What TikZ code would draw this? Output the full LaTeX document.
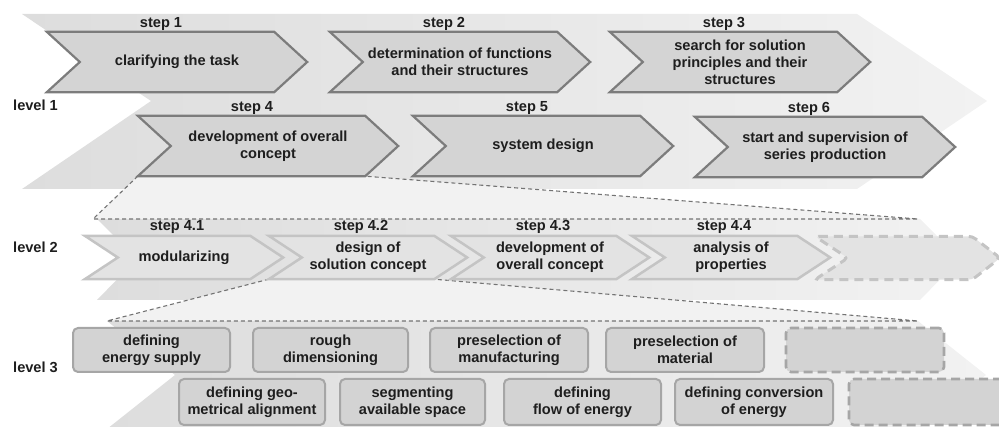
\documentclass[tikz,border=0pt]{standalone}
\usepackage{fontspec}
\setmainfont{Liberation Sans}
\usepackage{tikz}
\usetikzlibrary{calc, backgrounds}
\pgfdeclarelayer{back}
\pgfsetlayers{back,background,main}
\definecolor{phasefill}{HTML}{D4D4D4}
\definecolor{phaseedge}{HTML}{7C7C7C}
\definecolor{subfill}{HTML}{E3E3E3}
\definecolor{subedge}{HTML}{C4C4C4}
\definecolor{taskfill}{HTML}{D3D3D3}
\definecolor{taskedge}{HTML}{A6A6A6}
\definecolor{levelleft}{HTML}{DDDDDD}
\definecolor{levelright}{HTML}{F2F2F2}
\definecolor{zoomgray}{HTML}{737373}
\definecolor{textgray}{HTML}{1E1E1E}
\tikzstyle{phase} = [rectangle, minimum width=260pt, minimum height=60pt, align=center, inner sep=0pt]
\tikzstyle{subphase} = [rectangle, minimum width=198pt, minimum height=43pt, align=center, inner sep=0pt]
\tikzstyle{task} = [rectangle, draw=taskedge, fill=taskfill, line width=2pt, rounded corners=5pt,
    minimum height=44pt, align=center, inner sep=0pt]
\tikzstyle{taskmore} = [task, dash pattern=on 9pt off 5pt, line width=2.6pt]
\tikzstyle{phaselabel} = [anchor=base, inner sep=0pt]
\tikzstyle{levellabel} = [anchor=base west, inner sep=0pt]
\tikzstyle{levelbg} = [left color=levelleft, right color=levelright]
\tikzstyle{zoomline} = [draw=zoomgray, line width=1.1pt, dash pattern=on 4pt off 3pt]
\tikzstyle{phaseshape} = [draw=phaseedge, fill=phasefill, line width=2.2pt]
\tikzstyle{subshape} = [draw=subedge, fill=subfill, line width=2.5pt]

\begin{document}
\begin{tikzpicture}[x=1pt, y=-1pt, font=\fontsize{14.6}{16.8}\selectfont\bfseries, text=textgray]
    \useasboundingbox (0,0) rectangle (999,427);

    % Level 1
    \node [phase] (s1) at (177,62) {clarifying the task};
    \node [phase] (s2) at (460,62) {determination of functions\\and their structures};
    \node [phase] (s3) at (740,62) {search for solution\\principles and their\\structures};
    \node [phase] (s4) at (268,146) {development of overall\\concept};
    \node [phase] (s5) at (543,146) {system design};
    \node [phase] (s6) at (825,147) {start and supervision of\\series production};

    \node [phaselabel] (s1lab) at ($(s1.north)+(-16,-4)$) {step 1};
    \node [phaselabel] (s2lab) at ($(s2.north)+(-16,-4)$) {step 2};
    \node [phaselabel] (s3lab) at ($(s3.north)+(-16,-4)$) {step 3};
    \node [phaselabel] (s4lab) at ($(s4.north)+(-16,-4)$) {step 4};
    \node [phaselabel] (s5lab) at ($(s5.north)+(-16,-4)$) {step 5};
    \node [phaselabel] (s6lab) at ($(s6.north)+(-16,-4)$) {step 6};

    % Level 2
    \node [subphase] (t1) at (184,257.5) {modularizing};
    \node [subphase] (t2) at (368,257.5) {design of\\solution concept};
    \node [subphase] (t3) at (550,257.5) {development of\\overall concept};
    \node [subphase] (t4) at (731,257.5) {analysis of\\properties};
    \node [subphase, minimum width=185pt] (t5) at (907.5,258) {};

    \node [phaselabel] (t1lab) at ($(t1.north)+(-7,-5)$) {step 4.1};
    \node [phaselabel] (t2lab) at ($(t2.north)+(-7,-5)$) {step 4.2};
    \node [phaselabel] (t3lab) at ($(t3.north)+(-7,-5)$) {step 4.3};
    \node [phaselabel] (t4lab) at ($(t4.north)+(-7,-5)$) {step 4.4};

    % Level 3
    \node [task, minimum width=157pt] (b1) at (151.5,350) {defining\\energy supply};
    \node [task, minimum width=155pt] (b2) at (330.5,350) {rough\\dimensioning};
    \node [task, minimum width=158pt] (b3) at (509,350) {preselection of\\manufacturing};
    \node [task, minimum width=158pt] (b4) at (685,350) {preselection of\\material};
    \node [taskmore, minimum width=158pt] (b5) at (865,350) {};
    \node [task, minimum width=146pt, minimum height=46pt] (c1) at (252,402) {defining geo-\\metrical alignment};
    \node [task, minimum width=145pt, minimum height=46pt] (c2) at (412.5,402) {segmenting\\available space};
    \node [task, minimum width=157pt, minimum height=46pt] (c3) at (582.5,402) {defining\\flow of energy};
    \node [task, minimum width=158pt, minimum height=46pt] (c4) at (754,402) {defining conversion\\of energy};
    \node [taskmore, minimum width=158pt, minimum height=46pt] (c5) at (928,402) {};

    % Level names
    \node [levellabel] (lv1) at (13,111) {level 1};
    \node [levellabel] (lv2) at (13,253) {level 2};
    \node [levellabel] (lv3) at (13,373) {level 3};

    % Corners of the zoomed levels
    \coordinate (ltwonw) at (93,219);
    \coordinate (ltwone) at (918,219);
    \coordinate (lthreenw) at (107,321);
    \coordinate (lthreene) at (918,321);

    % Level backgrounds and zoom lines
    \begin{pgfonlayer}{back}
        \path [levelbg] (22,14) -- (857,14) -- (987,101) -- (857,189) -- (22,189) -- (151,101) -- cycle;
        \path [levelbg] (97,219) -- (920,219) -- (960,259) -- (920,300) -- (97,300) -- (137,259) -- cycle;
        \path [levelbg] (107,321) -- (918,321) -- (986,375) -- (918,429) -- (107,429) -- (175,375) -- cycle;
        \fill [black!5] (s4.south west) -- (ltwonw) -- (ltwone) -- ($(s4.south east)+(-33,0)$) -- cycle;
        \fill [black!5] (t2.south west) -- (lthreenw) -- (lthreene) -- ($(t2.south east)+(-33,0)$) -- cycle;
        \draw [zoomline] (s4.south west) -- (ltwonw) -- (ltwone) -- ($(s4.south east)+(-33,0)$) -- (s4.south west);
        \draw [zoomline] (t2.south west) -- (lthreenw) -- (lthreene) -- ($(t2.south east)+(-33,0)$) -- (t2.south west);
    \end{pgfonlayer}

    % Chevrons
    \begin{pgfonlayer}{background}
        \foreach \n in {s1,s2,s3,s4,s5,s6}
            \draw [phaseshape] (\n.north west) -- ($(\n.north east)+(-33,0)$) -- (\n.east)
                -- ($(\n.south east)+(-33,0)$) -- (\n.south west) -- ($(\n.west)+(33,0)$) -- cycle;
        \foreach \n in {t1,t2,t3,t4}
            \draw [subshape] (\n.north west) -- ($(\n.north east)+(-33,0)$) -- (\n.east)
                -- ($(\n.south east)+(-33,0)$) -- (\n.south west) -- ($(\n.west)+(33,0)$) -- cycle;
        \draw [subshape, line width=3pt, dash pattern=on 9pt off 6pt, rounded corners=4pt]
            (t5.north west) -- ($(t5.north east)+(-28,0)$) -- (t5.east)
            -- ($(t5.south east)+(-28,0)$) -- (t5.south west) -- ($(t5.west)+(33,0)$) -- cycle;
    \end{pgfonlayer}
\end{tikzpicture}
\end{document}
